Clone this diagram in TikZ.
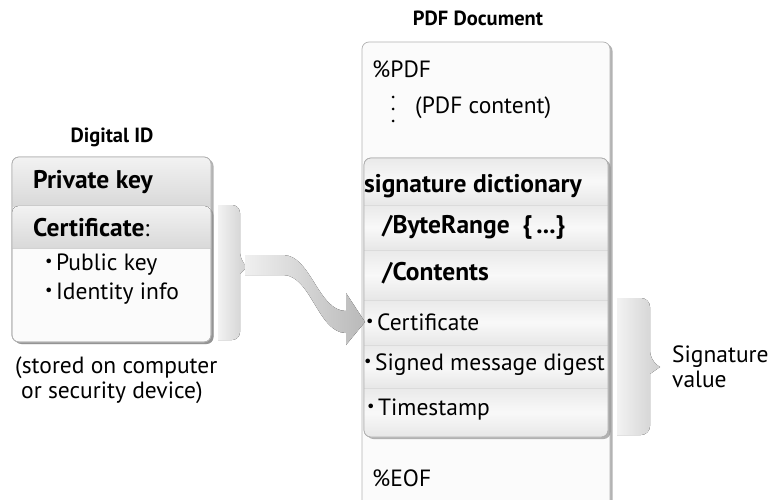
\documentclass[tikz,border=0pt]{standalone}
\usepackage{fontspec}
\setmainfont{PT Sans}
\usetikzlibrary{calc,shadows}
\tikzset{
    panel/.style={draw=gray!60, line width=0.7pt, rounded corners=7pt, fill=gray!3,
        drop shadow={shadow xshift=2.5pt, shadow yshift=-2pt, opacity=0.6}},
    rim/.style={draw=gray!60, line width=0.7pt, rounded corners=7pt},
    band/.style={top color=gray!17, bottom color=gray!19, middle color=gray!5},
    headband/.style={top color=gray!10, bottom color=gray!30},
    sep/.style={draw=gray!35, line width=0.8pt},
    txt/.style={anchor=west, inner sep=0pt, font=\fontsize{23.5}{25}\selectfont},
    btxt/.style={txt, font=\bfseries\fontsize{25.5}{27}\selectfont},
    ttl/.style={inner sep=0pt, font=\bfseries\fontsize{20.5}{24}\selectfont},
    bracefill/.style={left color=gray!10, right color=gray!38},
    arrowfill/.style={left color=gray!12, right color=gray!55}
}
\newcommand{\itemdot}{\raisebox{0.17em}{\scalebox{0.7}{•}}\kern3.5pt}

\begin{document}
\begin{tikzpicture}[x=1pt, y=-1pt]
\useasboundingbox (0,0) rectangle (771,500);
\node[ttl] (idtitle) at (112,137) {Digital ID};
\draw[panel] (12,157) rectangle (211,342);
\begin{scope}
\clip[rounded corners=7pt] (12,157) rectangle (211,342);
\fill[headband] (12,157) rectangle (211,206);
\end{scope}
\draw[panel] (12,206) rectangle (211,342);
\begin{scope}
\clip[rounded corners=7pt] (12,206) rectangle (211,342);
\fill[headband] (12,206) rectangle (211,248);
\draw[sep] (12,248) -- (211,248);
\end{scope}
\draw[rim] (12,157) rectangle (211,342);
\node[btxt] (privkey) at (33,182) {Private key};
\node[txt] (certificate) at (33,228) {\textbf{\fontsize{25.5}{27}\selectfont Certificate}:};
\node[txt] (pubkey) at (45,265) {\itemdot Public key};
\node[txt] (identity) at (45,294) {\itemdot Identity info};
\node[txt, align=left] (stored) at (15,380) {(stored on computer\\\hspace{6pt}or security device)};

\coordinate (lbr) at (247,267);
\fill[bracefill] (218,205) [rounded corners=8pt] -- (240,205) -- (240,260) [sharp corners] -- (lbr) -- (240,274) [rounded corners=8pt] -- (240,340) [sharp corners] -- (218,340) -- cycle;

\node[ttl] (pdftitle) at (478,18) {PDF Document};
\draw[panel] (362,42) rectangle (610,512);
\node[txt] (pdfhead) at (372,69) {\%PDF};
\foreach \y in {97,109,121} \fill (393,\y) circle (1.5pt);
\node[txt] (pdfcontent) at (415,108) {(PDF content)};

\draw[panel] (364,158) rectangle (608,437);
\begin{scope}
\clip[rounded corners=7pt] (364,158) rectangle (608,437);
\foreach \a/\b in {158/205, 205/250, 250/300, 300/345, 345/388, 388/437}
  \fill[band] (364,\a) rectangle (608,\b);
\foreach \b in {205, 250, 300, 345, 388}
  \draw[sep, draw=gray!28] (364,\b) -- (608,\b);
\end{scope}
\draw[rim] (364,158) rectangle (608,437);
\node[btxt] (sigdict) at (364,186) {signature dictionary};
\node[btxt] (byterange) at (382,227) {/ByteRange\ \ \{\,...\}};
\node[btxt] (contents) at (382,273) {/Contents};
\node[txt] (sigcert) at (366,322) {\itemdot Certificate};
\node[txt] (digest) at (364,365) {\itemdot Signed message digest};
\node[txt] (stamp) at (367,410) {\itemdot Timestamp};
\node[txt] (pdfeof) at (372,478) {\%EOF};

\coordinate (tip) at ($(sigcert.west)+(-1,0)$);
\fill[arrowfill] ($(lbr)+(-2,-12)$) -- ++(38,0) .. controls +(28,0) and +(-28,0) .. ($(tip)+(-19,-11)$) -- ++(0,-18) -- (tip) -- ++(-19,23) -- ++(0,-12) .. controls +(-28,0) and +(28,0) .. ($(lbr)+(36,8)$) -- ++(-38,0) -- cycle;

\coordinate (rbr) at (660,367);
\fill[bracefill] (617,298) [rounded corners=9pt] -- (650,298) -- (650,360) [sharp corners] -- (rbr) -- (650,374) [rounded corners=9pt] -- (650,435) [sharp corners] -- (617,435) -- cycle;
\node[txt, align=left] (sigvalue) at (672,367) {Signature\\value};
\end{tikzpicture}
\end{document}
